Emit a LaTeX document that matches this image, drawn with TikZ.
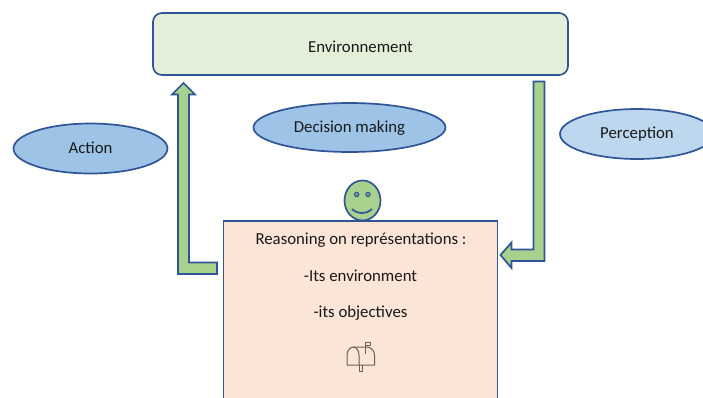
\documentclass[tikz,border=0pt]{standalone}
\usepackage{fontspec}
\setmainfont{Carlito}
\definecolor{edge}{HTML}{2F5597}
\definecolor{envfill}{HTML}{E2F0D9}
\definecolor{arrowfill}{HTML}{A9D18E}
\definecolor{ovalfill}{HTML}{9DC3E6}
\definecolor{ovallight}{HTML}{BDD7EE}
\definecolor{boxfill}{HTML}{FBE5D6}
\definecolor{iconline}{HTML}{6B5F58}
\tikzset{
  shapeline/.style={draw=edge,line width=1.7pt},
  blockarrow/.style={shapeline,fill=arrowfill,line join=miter},
  oval/.style={ellipse,shapeline,fill=ovalfill,inner sep=0pt,minimum width=154pt,minimum height=50pt,text height=12pt,text depth=3pt},
  label/.style={font=\fontsize{16.8}{20}\selectfont,text=black!90,inner sep=0pt},
  iconstroke/.style={draw=iconline,line width=1pt,line join=round}
}
\usetikzlibrary{shapes.geometric}
\begin{document}
\begin{tikzpicture}[x=1pt,y=-1pt]
\path[use as bounding box,fill=white] (0,0) rectangle (703,397);
\clip (0,0) rectangle (703,397);
% face (behind the box)
\draw[shapeline,fill=arrowfill] (362.5,200.5) ellipse [x radius=18,y radius=20];
\draw[edge,line width=1pt,fill=arrowfill!60!edge] (356.7,194.5) circle [radius=2.2] (368,194.5) circle [radius=2.2];
\draw[shapeline] (352,209) .. controls (358,214.5) and (366,214.5) .. (372,209);
% reasoning box
\draw[shapeline,fill=boxfill] (223.5,221) rectangle (497.5,400);
\node[label,anchor=base] (reason) at (361,244) {Reasoning on représentations :};
\node[label,anchor=base] (envitem) at (360.5,281) {-Its environment};
\node[label,anchor=base] (objitem) at (360.5,317) {-its objectives};
% environment
\node[shapeline,fill=envfill,rounded corners=9pt,minimum width=415pt,minimum height=62pt,inner sep=0pt,label,draw=edge,text height=17pt,text depth=0pt] (env) at (360.5,44) {Environnement};
% arrows
\draw[blockarrow] (183.5,83) -- (195,94.5) -- (189,94.5) -- (189,262.5) -- (217,262.5) -- (217,274) -- (178,274) -- (178,94.5) -- (172,94.5) -- cycle;
\draw[blockarrow] (533.5,81.5) -- (544.5,81.5) -- (544.5,261) -- (511.5,261) -- (511.5,268) -- (500.5,255) -- (511.5,242.5) -- (511.5,249.5) -- (533.5,249.5) -- cycle;
% ovals
\node[oval,label,draw=edge] (action) at (90.5,148.5) {Action};
\node[oval,label,draw=edge,minimum width=192pt,minimum height=49pt] (decision) at (349.5,127.5) {Decision making};
\node[oval,label,draw=edge,fill=ovallight] (perception) at (637,134) {Perception};
% mailbox icon
\draw[iconstroke] (347,365) -- (347,355) .. controls (347,350) and (351,347) .. (353,347) .. controls (356,347) and (359,350) .. (359,355) -- (359,365) -- cycle;
\draw[iconstroke] (353,347) -- (367,347) .. controls (371,347) and (374.5,351) .. (374.5,355) -- (374.5,365) -- (359,365);
\draw[iconstroke] (359,365) -- (359,371) -- (362,371) -- (362,365);
\draw[iconstroke] (365.5,354) -- (365.5,342) -- (370,342) -- (370,345.5) -- (365.5,345.5);
\end{tikzpicture}
\end{document}
